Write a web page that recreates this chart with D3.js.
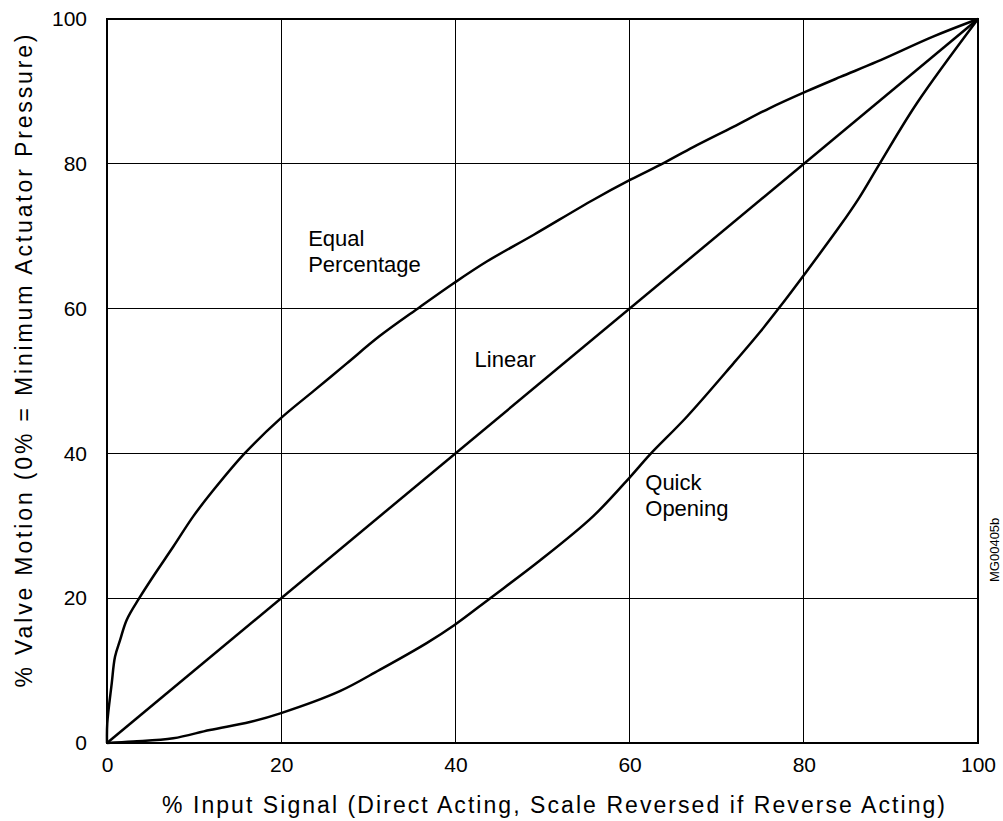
<!DOCTYPE html>
<html>
<head>
<meta charset="utf-8">
<script src="https://cdn.jsdelivr.net/npm/d3@7"></script>
<style>
  body { margin: 0; background: #fff; }
  text { font-family: "Liberation Sans", Arial, sans-serif; fill: #000; }
</style>
</head>
<body>
<div id="chart"></div>
<script>
// curve readings (x = % input signal, y = % valve motion)
var equalX = [0, 0.03, 0.54, 0.92, 1.5, 2.26, 3.7, 5.3, 7.6, 9.9, 12.2, 15.8, 19.9, 23.7, 27.5, 31.3, 35.9, 39.8, 43.6, 49, 55.8, 60.1, 63.9, 67.3, 71.9, 76.1, 80.3, 84.2, 88.4, 94.9, 100];
var equalY = [0, 2.7, 8.2, 11.9, 14.2, 17, 20, 23, 27.1, 31.3, 34.9, 40.0, 44.8, 48.6, 52.4, 56.2, 60.2, 63.5, 66.5, 70.2, 75, 77.8, 80.1, 82.3, 85.1, 87.7, 90, 92, 94.1, 97.6, 100];

var linearX = [0, 100];
var linearY = [0, 100];

var quickX = [0, 3.0, 7.6, 11.8, 16.4, 19.9, 26.8, 31.3, 36.7, 39.9, 44.0, 49.7, 55.8, 60.1, 62.3, 66.6, 71.9, 75, 77.1, 80.3, 84.2, 86.3, 88.7, 93, 100];
var quickY = [0, 0.2, 0.65, 1.8, 2.9, 4.1, 7.2, 10.1, 13.8, 16.3, 20, 25.2, 31.3, 36.8, 39.8, 45.1, 52.4, 56.8, 60, 65.1, 71.5, 75.2, 80, 88.4, 100];

var ticks = [0, 20, 40, 60, 80, 100];

var labels = [
  {lines: ["Equal", "Percentage"], x: 23.1, y: 68.6},
  {lines: ["Linear"], x: 42.2, y: 51.9},
  {lines: ["Quick", "Opening"], x: 61.8, y: 34.9}
];

var xTitle = "% Input Signal (Direct Acting, Scale Reversed if Reverse Acting)";
var yTitle = "% Valve Motion (0% = Minimum Actuator Pressure)";
var figId = "MG00405b";

// dimensions
var margin = {top: 19, right: 25, bottom: 78, left: 107},
    width = 1003 - margin.left - margin.right,
    height = 821 - margin.top - margin.bottom;

var svg = d3.select("#chart")
  .append("svg")
  .attr("width", 1003)
  .attr("height", 821)
  .append("g")
  .attr("transform", "translate(" + margin.left + "," + margin.top + ")");

var x = d3.scaleLinear().domain([0, 100]).range([0, width]);
var y = d3.scaleLinear().domain([0, 100]).range([height, 0]);

// grid lines
svg.append("g")
  .selectAll("line.vx")
  .data(ticks.slice(1, -1))
  .enter().append("line")
  .attr("x1", function(d) { return x(d); })
  .attr("x2", function(d) { return x(d); })
  .attr("y1", 0).attr("y2", height)
  .style("stroke", "#000").style("stroke-width", 1).attr("shape-rendering", "crispEdges");

svg.append("g")
  .selectAll("line.hy")
  .data(ticks.slice(1, -1))
  .enter().append("line")
  .attr("y1", function(d) { return y(d); })
  .attr("y2", function(d) { return y(d); })
  .attr("x1", 0).attr("x2", width)
  .style("stroke", "#000").style("stroke-width", 1).attr("shape-rendering", "crispEdges");

// frame
svg.append("rect")
  .attr("x", 0).attr("y", 0)
  .attr("width", width).attr("height", height)
  .style("fill", "none").style("stroke", "#000").style("stroke-width", 2);

// axes (labels only)
svg.append("g")
  .attr("transform", "translate(0," + height + ")")
  .call(d3.axisBottom(x).tickValues(ticks).tickSize(0).tickPadding(14))
  .call(function(g) { g.select(".domain").remove(); })
  .selectAll("text")
  .style("font-size", "21px")
  .style("font-family", "Liberation Sans, Arial, sans-serif");

svg.append("g")
  .call(d3.axisLeft(y).tickValues(ticks).tickSize(0).tickPadding(20))
  .call(function(g) { g.select(".domain").remove(); })
  .selectAll("text")
  .style("font-size", "21px")
  .style("font-family", "Liberation Sans, Arial, sans-serif");

// curves
var line = d3.line()
  .x(function(d) { return x(d[0]); })
  .y(function(d) { return y(d[1]); })
  .curve(d3.curveCatmullRom.alpha(0.5));

var series = [
  d3.zip(equalX, equalY),
  d3.zip(linearX, linearY),
  d3.zip(quickX, quickY)
];

svg.selectAll("path.curve")
  .data(series)
  .enter().append("path")
  .attr("class", "curve")
  .attr("d", line)
  .style("fill", "none")
  .style("stroke", "#000")
  .style("stroke-width", 2.5)
  .style("stroke-linejoin", "round");

// curve labels
labels.forEach(function(l) {
  var t = svg.append("text")
    .attr("x", x(l.x))
    .attr("y", y(l.y))
    .style("font-size", "22px");
  l.lines.forEach(function(s, i) {
    t.append("tspan")
      .attr("x", x(l.x))
      .attr("dy", i === 0 ? 0 : 26)
      .text(s);
  });
});

// axis titles
svg.append("text")
  .attr("x", width / 2 + 11)
  .attr("y", height + 70)
  .attr("text-anchor", "middle")
  .attr("textLength", 783)
  .attr("lengthAdjust", "spacing")
  .style("font-size", "23px")
  .text(xTitle);

svg.append("text")
  .attr("transform", "translate(" + (-75) + "," + (height / 2 - 20) + ") rotate(-90)")
  .attr("text-anchor", "middle")
  .attr("textLength", 653)
  .attr("lengthAdjust", "spacing")
  .style("font-size", "23px")
  .text(yTitle);

svg.append("text")
  .attr("transform", "translate(" + (width + 21) + "," + 563 + ") rotate(-90)")
  .attr("text-anchor", "start")
  .style("font-size", "13px")
  .text(figId);
</script>
</body>
</html>
